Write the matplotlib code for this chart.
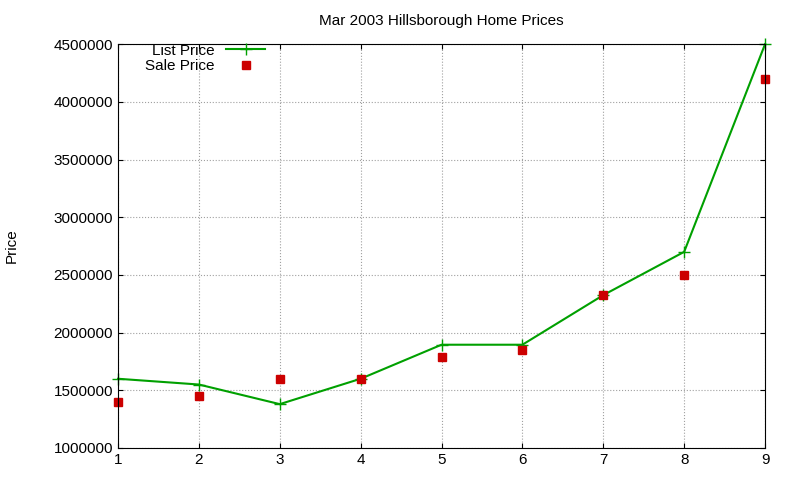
import matplotlib
matplotlib.use("Agg")
import matplotlib.pyplot as plt

x = [1, 2, 3, 4, 5, 6, 7, 8, 9]
list_price = [1600000, 1550000, 1380000, 1600000, 1895000, 1895000, 2325000, 2700000, 4500000]
sale_price = [1400000, 1450000, 1600000, 1600000, 1790000, 1850000, 2325000, 2500000, 4200000]

plt.rcParams["font.family"] = ["Liberation Sans", "DejaVu Sans"]
fig = plt.figure(figsize=(8, 4.8), dpi=100)
ax = fig.add_axes([0.1475, 0.0667, 0.8088, 0.8413])

ax.plot(x, list_price, color="#00a000", marker="+", markersize=8, lw=1.5, label="List Price",
        clip_on=False)
ax.plot(x, sale_price, ls="none", color="#cc0000", marker="s", markersize=6, label="Sale Price",
        clip_on=False)

ax.set_xlim(1, 9)
ax.set_ylim(1000000, 4500000)
ax.set_yticks(range(1000000, 4500001, 500000))
ax.set_xticks(x)
ax.ticklabel_format(axis="y", style="plain", useOffset=False)
ax.grid(True, color="#a0a0a0", ls=":", lw=0.8)
ax.tick_params(direction="in", labelsize=11, top=True, right=True)
ax.set_ylabel("Price", fontsize=11, labelpad=25)
ax.set_title("Mar 2003 Hillsborough Home Prices", fontsize=11, pad=14)
ax.legend(loc="upper left", bbox_to_anchor=(0.02, 1.035), frameon=False, markerfirst=False,
          fontsize=11, handlelength=2.5, labelspacing=0.1)

fig.savefig("out.png", dpi=100)
